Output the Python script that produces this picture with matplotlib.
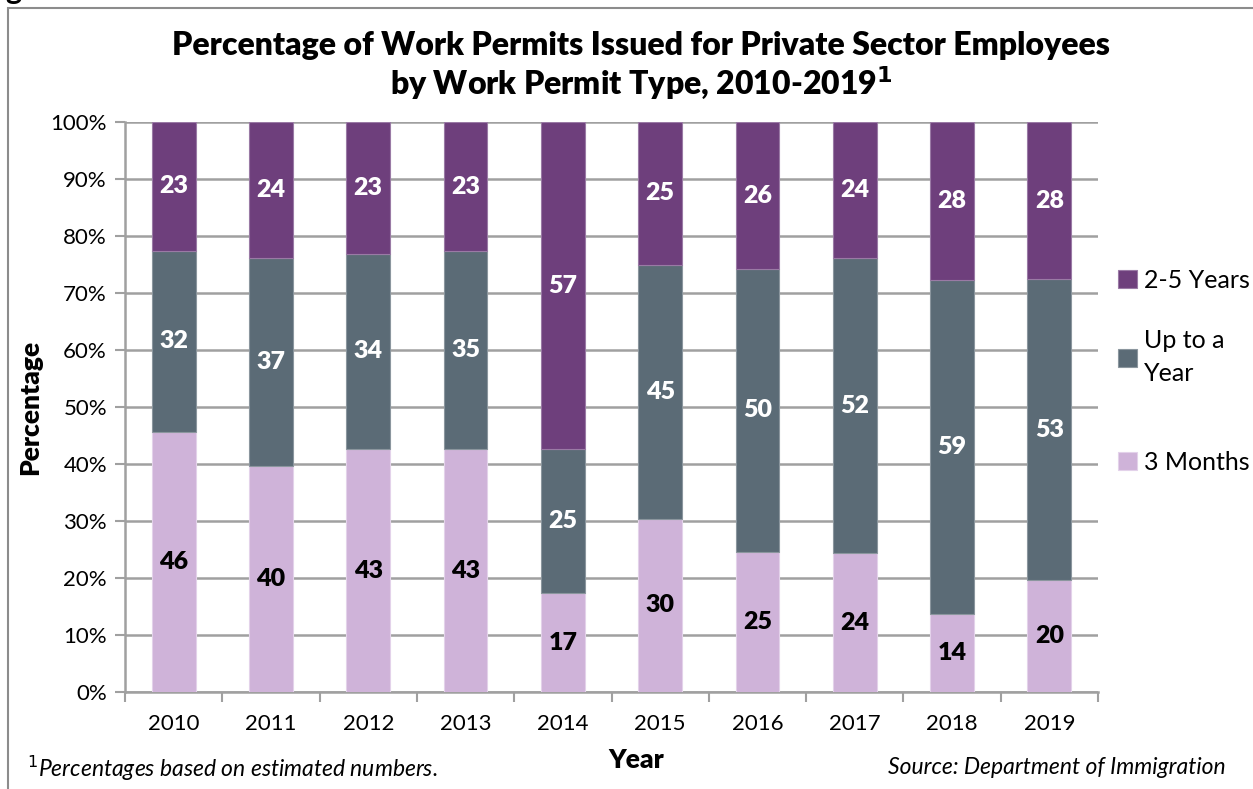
import matplotlib
matplotlib.use("Agg")
import matplotlib.pyplot as plt
from matplotlib.patches import Rectangle
import numpy as np

plt.rcParams['font.family'] = ['Lato', 'DejaVu Sans']

# --- data ---
years = ['2010', '2011', '2012', '2013', '2014', '2015', '2016', '2017', '2018', '2019']
three_months = [45.6, 39.6, 42.6, 42.6, 17.3, 30.4, 24.6, 24.3, 13.7, 19.6]
up_to_year = [31.8, 36.6, 34.3, 34.7, 25.3, 44.6, 49.6, 51.9, 58.6, 52.8]
two_five_years = [22.6, 23.8, 23.1, 22.7, 57.4, 25.0, 25.8, 23.8, 27.7, 27.6]
yticks = [0, 10, 20, 30, 40, 50, 60, 70, 80, 90, 100]

# colours
C_3M = '#CFB3D9'
C_UY = '#5B6B76'
C_25 = '#6E3F7C'
GRID = '#A0A0A0'

W, H = 1253, 789
fig = plt.figure(figsize=(W / 100, H / 100), dpi=100)
fig.patch.set_facecolor('white')

# outer chart border (only left/top visible)
fig.patches.append(Rectangle((8 / W, -0.1), 1.2, 1 - 8 / H + 0.1, transform=fig.transFigure,
                             fill=False, edgecolor='#8C8C8C', linewidth=1.5))
# cut-off glyph of the caption above
fig.text(5 / W, 1 + 10 / H, 'g', fontsize=22, fontweight='bold', ha='left', va='center')

ax = fig.add_axes([125 / W, 1 - 692 / H, (1098 - 125) / W, (692 - 122) / H])

x = np.arange(len(years))
bw = 0.45
a = np.array(three_months)
b = np.array(up_to_year)
c = np.array(two_five_years)

bars_3m = ax.bar(x, a, bw, color=C_3M, edgecolor='#E3D2EA', linewidth=0.8, label='3 Months', zorder=3)
bars_uy = ax.bar(x, b, bw, bottom=a, color=C_UY, edgecolor='#8B969E', linewidth=0.8, label='Up to a\nYear', zorder=3)
bars_25 = ax.bar(x, c, bw, bottom=a + b, color=C_25, edgecolor='#9A7AA5', linewidth=0.8, label='2-5 Years', zorder=3)

lab = dict(ha='center', va='center', fontsize=18, fontweight='heavy', zorder=4)
for i in range(len(years)):
    ax.text(x[i], a[i] / 2, f"{a[i]:.0f}", color='black', **lab)
    ax.text(x[i], a[i] + b[i] / 2, f"{b[i]:.0f}", color='white', **lab)
    ax.text(x[i], a[i] + b[i] + c[i] / 2, f"{c[i]:.0f}", color='white', **lab)

ax.set_xlim(-0.5, len(years) - 0.5)
ax.set_ylim(0, 100)
ax.set_yticks(yticks)
ax.set_yticklabels([f"{t}%" for t in yticks], fontsize=16)
ax.set_xticks(x)
ax.set_xticklabels(years, fontsize=16)
ax.set_xticks(np.arange(len(years) + 1) - 0.5, minor=True)
ax.tick_params(axis='x', which='major', length=0, pad=16)
ax.tick_params(axis='x', which='minor', length=7, width=1.5, color=GRID, direction='out')
ax.tick_params(axis='y', length=7, width=1.5, color=GRID, direction='out', pad=6)

ax.yaxis.grid(True, color=GRID, linewidth=1.8, zorder=0)
ax.set_axisbelow(True)
for s in ['top', 'right']:
    ax.spines[s].set_visible(False)
ax.spines['left'].set_color(GRID)
ax.spines['left'].set_linewidth(1.8)
ax.spines['bottom'].set_color(GRID)
ax.spines['bottom'].set_linewidth(1.8)

ax.set_ylabel('Percentage', fontsize=19, fontweight='heavy', labelpad=6)
fig.text(636 / W, 1 - 760 / H, 'Year', fontsize=19, fontweight='heavy', ha='center', va='center')

fig.text(641 / W, 1 - 46 / H, 'Percentage of Work Permits Issued for Private Sector Employees',
         fontsize=23, fontweight='heavy', ha='center', va='center')
fig.text(641 / W, 1 - 83 / H, 'by Work Permit Type, 2010-2019$^{\\mathbf{1}}$',
         fontsize=23, fontweight='heavy', ha='center', va='center')

fig.text(27 / W, 1 - 768 / H, '$^{1}$Percentages based on estimated numbers.', fontsize=16.5,
         style='italic', ha='left', va='center')
fig.text(1226 / W, 1 - 768 / H, 'Source: Department of Immigration', fontsize=16.5,
         style='italic', ha='right', va='center')

legkw = dict(loc='upper left', bbox_transform=fig.transFigure, frameon=False, fontsize=18,
             handlelength=0.75, handleheight=0.75, handletextpad=0.3, borderaxespad=0, borderpad=0)
leg1 = ax.legend(handles=[bars_25, bars_uy], bbox_to_anchor=(1118 / W, 1 - 269 / H),
                 labelspacing=1.5, **legkw)
leg1.get_texts()[1].set_linespacing(1.5)
ax.add_artist(leg1)
leg2 = ax.legend(handles=[bars_3m], bbox_to_anchor=(1118 / W, 1 - 451 / H), **legkw)

fig.savefig('out.png', dpi=100)
